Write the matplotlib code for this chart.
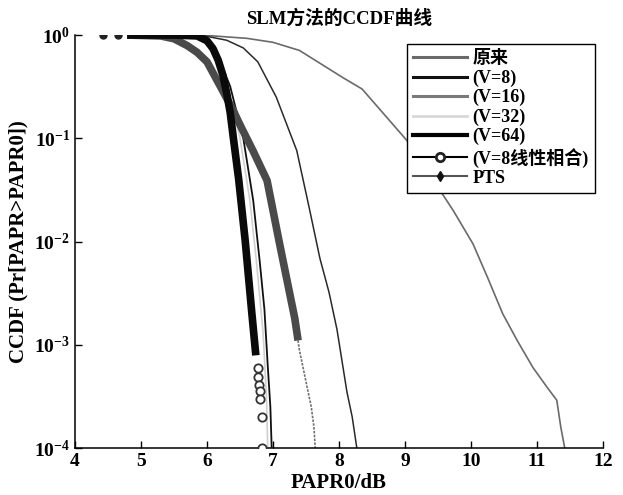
import matplotlib
matplotlib.use("Agg")
import matplotlib.pyplot as plt
from matplotlib.lines import Line2D
from matplotlib.ticker import NullLocator

# ---------------------------------------------------------------
# data (PAPR0 in dB, CCDF)
# ---------------------------------------------------------------
orig_x = [5.3, 6.0, 6.6, 7.0, 7.4, 8.05, 8.35, 9.03, 9.4, 9.73, 10.03,
          10.25, 10.48, 10.7, 10.94, 11.15, 11.30, 11.36, 11.42]
orig_y = [1.0, 0.99, 0.93, 0.85, 0.71, 0.39, 0.30, 0.095, 0.042, 0.020, 0.0095,
          0.0045, 0.002, 0.0011, 0.0006, 0.00039, 0.00029, 0.00016, 0.0001]

v8_x = [5.9, 6.3, 6.55, 6.77, 7.05, 7.36, 7.55, 7.71, 7.85, 7.97, 8.12, 8.20, 8.27]
v8_y = [1.0, 0.89, 0.75, 0.55, 0.25, 0.076, 0.021, 0.0069, 0.0032, 0.0014, 0.00035,
        0.0002, 0.0001]

v16_x = [4.79, 5.3, 5.70, 6.0, 6.2, 6.39, 6.5, 6.7, 6.91, 7.1, 7.33, 7.40, 7.52,
         7.58, 7.62, 7.64]
v16_y = [1.0, 0.98, 0.79, 0.55, 0.32, 0.19, 0.135, 0.075, 0.039, 0.01, 0.0018,
         0.00089, 0.00038, 0.00025, 0.00016, 0.0001]

v32_x = [5.0, 5.9, 6.12, 6.3, 6.5, 6.65, 6.75, 6.85, 6.9, 6.92]
v32_y = [1.0, 0.95, 0.69, 0.35, 0.1, 0.025, 0.0063, 0.0013, 0.00032, 0.0001]

v64_x = [5.0, 5.9, 6.15, 6.35, 6.55, 6.7, 6.8, 6.87, 6.92, 6.96, 6.98]
v64_y = [1.0, 0.95, 0.66, 0.32, 0.1, 0.025, 0.0063, 0.0022, 0.00063, 0.00025, 0.0001]

# V=8 linear combination: dense markers form the black band, sparse tail shows circles
lin_x = [4.79, 5.5, 5.85, 6.0, 6.09, 6.17, 6.24, 6.30, 6.35, 6.40, 6.48, 6.58, 6.68, 6.74]
lin_y = [1.0, 1.0, 0.98, 0.88, 0.74, 0.57, 0.41, 0.27, 0.18, 0.1, 0.04, 0.01, 0.002,
         0.00079]
lin_tail_x = [6.77, 6.78, 6.79, 6.80, 6.81, 6.83, 6.84]
lin_tail_y = [0.0006, 0.00049, 0.00041, 0.00036, 0.0003, 0.0002, 0.0001]

# PTS: dense dots form the gray band, two sparse dots at the top left
pts_head_x = [4.42, 4.65]
pts_head_y = [1.0, 1.0]
pts_x = [4.79, 5.3, 5.5, 5.7, 5.85, 6.0, 6.2, 6.39, 6.5, 6.7, 6.91, 7.1, 7.33, 7.38]
pts_y = [1.0, 0.98, 0.92, 0.79, 0.68, 0.55, 0.32, 0.19, 0.135, 0.075, 0.039, 0.0095,
         0.0018, 0.0011]

labels = ["原来", "(V=8)", "(V=16)", "(V=32)", "(V=64)", "(V=8线性相合)", "PTS"]
x_ticks = [4, 5, 6, 7, 8, 9, 10, 11, 12]
y_ticks = [1e-4, 1e-3, 1e-2, 1e-1, 1e0]
y_tick_labels = [r"$\mathregular{10^{-4}}$", r"$\mathregular{10^{-3}}$",
                 r"$\mathregular{10^{-2}}$", r"$\mathregular{10^{-1}}$",
                 r"$\mathregular{10^{0}}$"]

# ---------------------------------------------------------------
# style
# ---------------------------------------------------------------
plt.rcParams.update({
    "font.family": ["Liberation Serif", "Noto Sans CJK SC"],
    "font.weight": "bold",
    "axes.labelweight": "bold",
    "axes.titleweight": "bold",
    "mathtext.fontset": "custom",
    "mathtext.rm": "Liberation Serif:bold",
    "mathtext.bf": "Liberation Serif:bold",
    "xtick.direction": "in",
    "ytick.direction": "in",
    "axes.linewidth": 1.1,
})

fig = plt.figure(figsize=(6.23, 4.95), dpi=100)
ax = fig.add_axes([0.1204, 0.0949, 0.8475, 0.8343])

ax.plot(orig_x, orig_y, color="#6a6a6a", lw=1.2, zorder=2)
ax.plot(v8_x, v8_y, color="#2a2a2a", lw=1.1, zorder=2)
ax.plot(v16_x, v16_y, color="#707070", lw=1.2, linestyle=(0, (1.5, 0.8)), zorder=2)
ax.plot(v32_x, v32_y, color="#d0d0d0", lw=1.2, zorder=2)
ax.plot(v64_x, v64_y, color="#111111", lw=1.3, zorder=3)
ax.plot(pts_x, pts_y, color="#4a4a4a", lw=5.5, solid_capstyle="butt",
        solid_joinstyle="round", zorder=4)
ax.plot(pts_head_x, pts_head_y, linestyle="none", marker="o", ms=5,
        color="#222222", zorder=4)
ax.plot(lin_x, lin_y, color="#0a0a0a", lw=5.5, solid_capstyle="butt",
        solid_joinstyle="round", zorder=5)
ax.plot(lin_tail_x, lin_tail_y, linestyle="none", marker="o", ms=6,
        mfc="white", mec="#333333", mew=1.3, zorder=5)

ax.set_yscale("log")
ax.set_xlim(4, 12)
ax.set_ylim(1e-4, 1)
ax.set_xticks(x_ticks)
ax.set_yticks(y_ticks)
ax.set_yticklabels(y_tick_labels)
ax.yaxis.set_minor_locator(NullLocator())
ax.tick_params(axis="both", labelsize=14, length=5, width=1, top=False, right=False)
ax.spines["top"].set_visible(False)
ax.spines["right"].set_visible(False)

ax.set_title("SLM方法的CCDF曲线", fontsize=13.5, pad=8)
ax.set_xlabel("PAPR0/dB", fontsize=15, labelpad=2)
ax.set_ylabel("CCDF (Pr[PAPR>PAPR0])", fontsize=15, labelpad=4)

# legend keys are drawn thin, as in the reference legend
handles = [
    Line2D([], [], color="#6a6a6a", lw=2.2),
    Line2D([], [], color="#111111", lw=2.2),
    Line2D([], [], color="#7a7a7a", lw=2.2),
    Line2D([], [], color="#d8d8d8", lw=2.0),
    Line2D([], [], color="#000000", lw=3.0),
    Line2D([], [], color="#000000", lw=1.5, marker="o", ms=6, mfc="white",
           mec="#222222", mew=2),
    Line2D([], [], color="#555555", lw=1.5, marker="d", ms=5,
           mfc="#111111", mec="#111111"),
]
ax.legend(handles, labels, loc="upper right", bbox_to_anchor=(0.985, 0.978),
          borderaxespad=0, frameon=True, fancybox=False, edgecolor="black",
          framealpha=1, fontsize=13, handlelength=3, handletextpad=0.3,
          labelspacing=0.12, borderpad=0.35)

fig.savefig("out.png", dpi=100)
